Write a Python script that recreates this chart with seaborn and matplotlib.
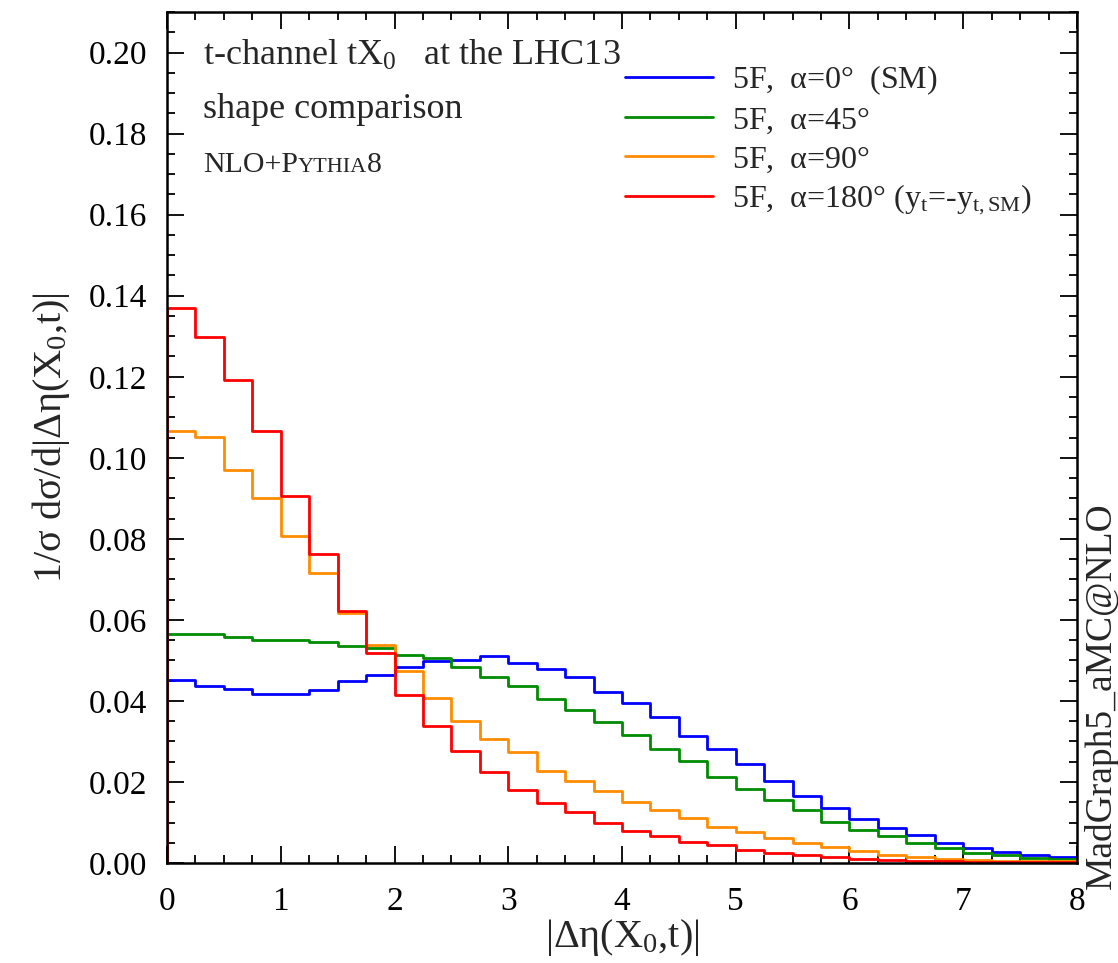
import numpy as np
import pandas as pd
import matplotlib
matplotlib.use("Agg")
import matplotlib.pyplot as plt
from matplotlib.lines import Line2D
from matplotlib.offsetbox import TextArea, HPacker, AnchoredOffsetbox
from matplotlib.ticker import MultipleLocator
import seaborn as sns

# ---- data ----
bin_edges = [i * 0.25 for i in range(33)]

alpha_0 = [0.0451, 0.0436, 0.0430, 0.0418, 0.0418, 0.0426, 0.0448, 0.0464,
           0.0484, 0.0498, 0.0502, 0.0510, 0.0494, 0.0480, 0.0458, 0.0423,
           0.0396, 0.0360, 0.0314, 0.0282, 0.0244, 0.0203, 0.0166, 0.0135,
           0.0109, 0.0087, 0.0068, 0.0050, 0.0037, 0.0027, 0.0019, 0.0015]
alpha_45 = [0.0565, 0.0564, 0.0557, 0.0551, 0.0550, 0.0546, 0.0536, 0.0531,
            0.0513, 0.0506, 0.0484, 0.0460, 0.0436, 0.0404, 0.0378, 0.0349,
            0.0316, 0.0282, 0.0253, 0.0213, 0.0183, 0.0156, 0.0131, 0.0102,
            0.0082, 0.0067, 0.0050, 0.0038, 0.0024, 0.0020, 0.0012, 0.0009]
alpha_90 = [0.1067, 0.1051, 0.0970, 0.0900, 0.0807, 0.0716, 0.0616, 0.0539,
            0.0475, 0.0407, 0.0351, 0.0305, 0.0275, 0.0228, 0.0203, 0.0179,
            0.0151, 0.0131, 0.0112, 0.0090, 0.0076, 0.0063, 0.0050, 0.0040,
            0.0030, 0.0021, 0.0016, 0.0011, 0.0008, 0.0006, 0.0005, 0.0004]
alpha_180 = [0.1370, 0.1297, 0.1192, 0.1065, 0.0906, 0.0763, 0.0623, 0.0518,
             0.0415, 0.0339, 0.0277, 0.0224, 0.0180, 0.0149, 0.0125, 0.0098,
             0.0079, 0.0067, 0.0053, 0.0045, 0.0032, 0.0025, 0.0021, 0.0016,
             0.0011, 0.0008, 0.0006, 0.0004, 0.0003, 0.0003, 0.0002, 0.0002]

series_labels = [r"5F,  $\alpha$=0$\degree$  (SM)",
                 r"5F,  $\alpha$=45$\degree$",
                 r"5F,  $\alpha$=90$\degree$",
                 r"5F,  $\alpha$=180$\degree$ (y$_{\rm t}$=-y$_{\rm t,SM}$)"]
series_values = [alpha_0, alpha_45, alpha_90, alpha_180]
series_colors = ["#0000ff", "#008c00", "#ff8c00", "#ff0000"]

x_ticks = [0, 1, 2, 3, 4, 5, 6, 7, 8]
y_ticks = [0.00, 0.02, 0.04, 0.06, 0.08, 0.10, 0.12, 0.14, 0.16, 0.18, 0.20]

# ---- style ----
sns.set_theme(style="ticks")
plt.rcParams["font.family"] = ["Liberation Serif", "DejaVu Serif"]
plt.rcParams["mathtext.fontset"] = "custom"
plt.rcParams["mathtext.rm"] = "Liberation Serif"
plt.rcParams["mathtext.it"] = "Liberation Serif:italic"
plt.rcParams["mathtext.default"] = "regular"

LW = 2.0

fig = plt.figure(figsize=(11.18, 9.63), dpi=100)
ax = fig.add_axes([0.1494, 0.1038, 0.8139, 0.8837])

centers = [0.5 * (a + b) for a, b in zip(bin_edges[:-1], bin_edges[1:])]
for vals, col in zip(series_values, series_colors):
    df = pd.DataFrame({"x": centers, "w": vals})
    sns.histplot(data=df, x="x", weights="w", bins=bin_edges, element="step",
                 fill=False, color=col, linewidth=LW, ax=ax)
    # drop lines at the histogram ends
    ax.vlines([bin_edges[0], bin_edges[-1]], 0, [vals[0], vals[-1]],
              colors=col, linewidth=LW)

ax.set_xlim(0, 8)
ax.set_ylim(0, 0.21)
ax.set_xticks(x_ticks)
ax.set_yticks(y_ticks)
ax.set_xticklabels([str(t) for t in x_ticks])
ax.set_yticklabels([f"{t:.2f}" for t in y_ticks])
ax.xaxis.set_minor_locator(MultipleLocator(0.25))
ax.yaxis.set_minor_locator(MultipleLocator(0.005))
ax.tick_params(which="both", direction="in", top=True, right=True,
               labelsize=24, width=1.3, colors="black")
ax.tick_params(axis="y", pad=14)
ax.tick_params(axis="x", pad=17)
ax.tick_params(which="major", length=12)
ax.tick_params(which="minor", length=6)
for sp in ax.spines.values():
    sp.set_linewidth(1.8)
    sp.set_color("black")

ax.set_xlabel(r"|$\Delta\eta$(X$_0$,t)|", fontsize=29, labelpad=0)
ax.set_ylabel(r"1/$\sigma$ d$\sigma$/d|$\Delta\eta$(X$_0$,t)|", fontsize=29, labelpad=12)

ax.text(0.0396, 0.9377, r"t-channel tX$_0$   at the LHC13", transform=ax.transAxes,
        fontsize=26, va="baseline", ha="left")
ax.text(0.0396, 0.8754, "shape comparison", transform=ax.transAxes,
        fontsize=26, va="baseline", ha="left")
pieces = HPacker(children=[TextArea("NLO+P", textprops=dict(fontsize=21.5)),
                           TextArea("YTHIA", textprops=dict(fontsize=16)),
                           TextArea("8", textprops=dict(fontsize=21.5))],
                 align="baseline", pad=0, sep=0)
ab = AnchoredOffsetbox(loc="lower left", child=pieces, pad=0, borderpad=0,
                       frameon=False, bbox_to_anchor=(0.0396, 0.805),
                       bbox_transform=ax.transAxes)
ax.add_artist(ab)

handles = [Line2D([], [], color=c, linewidth=LW) for c in series_colors]
ax.legend(handles, series_labels, loc="upper left", bbox_to_anchor=(0.503, 0.94),
          frameon=False, fontsize=23, handlelength=2.75, handletextpad=0.6,
          labelspacing=0.27, borderaxespad=0, borderpad=0)

fig.text(0.985, 0.278, "MadGraph5_aMC@NLO", rotation=90, fontsize=27,
         ha="center", va="center")

fig.savefig("out.png", dpi=100)
